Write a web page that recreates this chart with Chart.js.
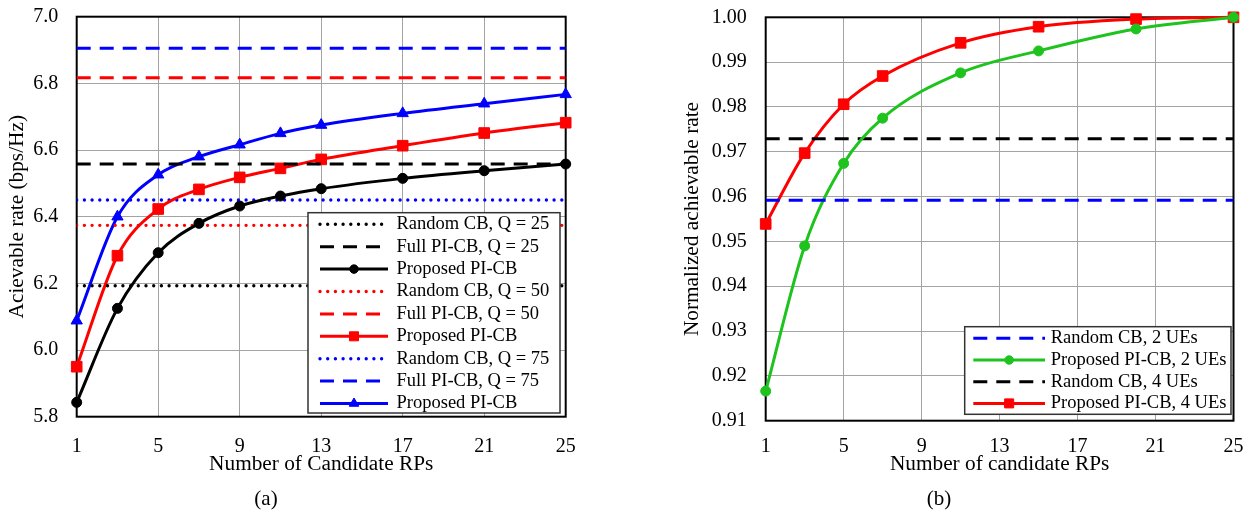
<!DOCTYPE html>
<html lang="en">
<head>
<meta charset="UTF-8" />
<title>Achievable rate vs number of candidate RPs</title>
<script src="https://cdn.jsdelivr.net/npm/chart.js"></script>
<style>
  body { margin: 0; background: #fff; font-family: "Liberation Serif", "Times New Roman", serif; }
  #wrap { position: relative; width: 1258px; height: 518px; }
  canvas { position: absolute; top: 0; }
  .cap { position: absolute; font-size: 21px; transform: translate(-50%, -50%); white-space: nowrap; }
</style>
</head>
<body>
<div id="wrap">
  <canvas id="rateChart" width="640" height="518" style="left:0"></canvas>
  <canvas id="normChart" width="618" height="518" style="left:640px"></canvas>
  <div class="cap" style="left:266px; top:498px">(a)</div>
  <div class="cap" style="left:939px; top:498px">(b)</div>
</div>
<script>
  // ---- data, panel (a) ----
  const rpA = [1, 3, 5, 7, 9, 11, 13, 17, 21, 25];
  const proposedQ25 = [5.843, 6.125, 6.292, 6.380, 6.432, 6.462, 6.484, 6.515, 6.538, 6.558];
  const proposedQ50 = [5.950, 6.283, 6.423, 6.482, 6.518, 6.545, 6.572, 6.613, 6.651, 6.682];
  const proposedQ75 = [6.088, 6.400, 6.526, 6.580, 6.616, 6.650, 6.675, 6.710, 6.739, 6.767];
  const randomQ = { 25: 6.193, 50: 6.374, 75: 6.450 };
  const fullQ = { 25: 6.558, 50: 6.817, 75: 6.905 };
  const yTicksA = [5.8, 6.0, 6.2, 6.4, 6.6, 6.8, 7.0];

  // ---- data, panel (b) ----
  const rpB = [1, 3, 5, 7, 11, 15, 20, 25];
  const proposed2UE = [0.9166, 0.9490, 0.9674, 0.9775, 0.9876, 0.9925, 0.9974, 1.0000];
  const proposed4UE = [0.9539, 0.9697, 0.9806, 0.9869, 0.9943, 0.9979, 0.9996, 1.0000];
  const random2UE = 0.9592;
  const random4UE = 0.9729;
  const yTicksB = [0.91, 0.92, 0.93, 0.94, 0.95, 0.96, 0.97, 0.98, 0.99, 1.00];

  const xTicks = [1, 5, 9, 13, 17, 21, 25];

  const SERIF = "'Liberation Serif', 'Times New Roman', serif";
  Chart.defaults.font.family = SERIF;
  Chart.defaults.color = '#000';

  const GRID = '#a3a3a3';

  function pts(xs, ys) {
    return xs.map((x, i) => ({ x: x, y: ys[i] }));
  }

  function flat(label, value, color, dotted) {
    return {
      label: label,
      data: pts([xTicks[0], xTicks[xTicks.length - 1]], [value, value]),
      borderColor: color,
      borderWidth: dotted ? 3.4 : 3,
      borderDash: dotted ? [0, 7.7] : [14, 9],
      borderCapStyle: dotted ? 'round' : 'butt',
      pointRadius: 0,
      pointHoverRadius: 0
    };
  }

  function curve(label, xs, ys, color, style, radius) {
    return {
      label: label,
      data: pts(xs, ys),
      borderColor: color,
      backgroundColor: color,
      pointBackgroundColor: color,
      pointBorderColor: color,
      borderWidth: 3,
      pointStyle: style,
      pointRadius: radius,
      pointBorderWidth: 1,
      cubicInterpolationMode: 'monotone',
      clip: false
    };
  }

  // legend box drawn on top of the plot, at a fixed spot
  const boxLegend = {
    id: 'boxLegend',
    afterDraw(chart, args, o) {
      const ctx = chart.ctx;
      ctx.save();
      ctx.fillStyle = '#fff';
      ctx.fillRect(o.left, o.top, o.width, o.height);
      ctx.lineWidth = 1.5;
      ctx.strokeStyle = '#333';
      ctx.strokeRect(o.left, o.top, o.width, o.height);
      ctx.font = '18.5px ' + SERIF;
      ctx.textBaseline = 'middle';
      chart.data.datasets.forEach((ds, i) => {
        const y = o.firstRow + i * o.rowHeight;
        ctx.save();
        ctx.strokeStyle = ds.borderColor;
        ctx.lineWidth = ds.borderWidth;
        ctx.lineCap = ds.borderCapStyle || 'butt';
        ctx.setLineDash(ds.borderDash || []);
        ctx.beginPath();
        ctx.moveTo(o.sampleFrom, y);
        ctx.lineTo(o.sampleTo, y);
        ctx.stroke();
        ctx.restore();
        if (ds.pointRadius > 0) {
          const mx = (o.sampleFrom + o.sampleTo) / 2;
          ctx.save();
          ctx.setLineDash([]);
          ctx.fillStyle = ds.pointBackgroundColor;
          ctx.strokeStyle = ds.pointBorderColor;
          ctx.lineWidth = 1;
          const r = ds.pointRadius * 0.85;
          if (Chart.helpers && Chart.helpers.drawPoint) {
            Chart.helpers.drawPoint(ctx, { pointStyle: ds.pointStyle, radius: r, borderWidth: 1, rotation: 0 }, mx, y);
          } else {
            ctx.beginPath();
            ctx.arc(mx, y, r, 0, Math.PI * 2);
            ctx.fill();
          }
          ctx.restore();
        }
        ctx.fillStyle = '#000';
        ctx.fillText(ds.label, o.textX, y);
      });
      ctx.restore();
    }
  };

  const frame = {
    id: 'frame',
    beforeDatasetsDraw(chart) {
      const { ctx, chartArea: a } = chart;
      ctx.save();
      ctx.strokeStyle = '#000';
      ctx.lineWidth = 2;
      ctx.strokeRect(a.left, a.top, a.right - a.left, a.bottom - a.top);
      ctx.restore();
    }
  };

  function xScale(title, tickPad, height) {
    return {
      type: 'linear',
      min: xTicks[0],
      max: xTicks[xTicks.length - 1],
      afterBuildTicks: s => { s.ticks = xTicks.map(v => ({ value: v })); },
      afterFit: s => { s.height = height; },
      grid: { color: GRID, lineWidth: 1, drawTicks: false },
      border: { display: false },
      ticks: { font: { size: 20 }, padding: tickPad, maxRotation: 0 },
      title: { display: true, text: title, font: { size: 21.3 }, padding: { top: 0, bottom: 0 } }
    };
  }

  function yScale(title, ticks, digits, width, tickPad, titlePad) {
    return {
      type: 'linear',
      min: ticks[0],
      max: ticks[ticks.length - 1],
      afterBuildTicks: s => { s.ticks = ticks.map(v => ({ value: v })); },
      // fixed width; drop the extra top/bottom room the tick padding would claim
      afterFit: s => { s.width = width; s.paddingTop = 0; s.paddingBottom = 0; },
      grid: { color: GRID, lineWidth: 1, drawTicks: false },
      border: { display: false },
      ticks: { font: { size: 20 }, padding: tickPad, callback: v => Number(v).toFixed(digits) },
      title: { display: true, text: title, font: { size: 21.3 }, padding: { top: titlePad, bottom: 0 } }
    };
  }

  new Chart(document.getElementById('rateChart'), {
    type: 'line',
    data: {
      datasets: [
        flat('Random CB, Q = 25', randomQ[25], '#000000', true),
        flat('Full PI-CB, Q = 25', fullQ[25], '#000000', false),
        curve('Proposed PI-CB', rpA, proposedQ25, '#000000', 'circle', 5),
        flat('Random CB, Q = 50', randomQ[50], '#ff0000', true),
        flat('Full PI-CB, Q = 50', fullQ[50], '#ff0000', false),
        curve('Proposed PI-CB', rpA, proposedQ50, '#ff0000', 'rect', 7.5),
        flat('Random CB, Q = 75', randomQ[75], '#0000ff', true),
        flat('Full PI-CB, Q = 75', fullQ[75], '#0000ff', false),
        curve('Proposed PI-CB', rpA, proposedQ75, '#0000ff', 'triangle', 6.5)
      ]
    },
    options: {
      responsive: false,
      animation: false,
      devicePixelRatio: 1,
      layout: { padding: { left: 0, top: 16.7, right: 74.3, bottom: 41.2 } },
      scales: {
        x: xScale('Number of Candidate RPs', 18.5, 60.1),
        y: yScale('Acievable rate (bps/Hz)', yTicksA, 1, 76.7, 18.4, 4.7)
      },
      plugins: {
        legend: { display: false },
        tooltip: { enabled: false },
        boxLegend: {
          left: 308, top: 212.7, width: 252, height: 200.3,
          firstRow: 224.3, rowHeight: 22.4,
          sampleFrom: 320, sampleTo: 388, textX: 396.5
        }
      }
    },
    plugins: [frame, boxLegend]
  });

  new Chart(document.getElementById('normChart'), {
    type: 'line',
    data: {
      datasets: [
        flat('Random CB, 2 UEs', random2UE, '#0000ff', false),
        curve('Proposed PI-CB, 2 UEs', rpB, proposed2UE, '#1ec31e', 'circle', 5),
        flat('Random CB, 4 UEs', random4UE, '#000000', false),
        curve('Proposed PI-CB, 4 UEs', rpB, proposed4UE, '#ff0000', 'rect', 7.5)
      ]
    },
    options: {
      responsive: false,
      animation: false,
      devicePixelRatio: 1,
      layout: { padding: { left: 20, top: 17.3, right: 18.7, bottom: 41.2 } },
      scales: {
        x: xScale('Number of candidate RPs', 14.5, 56.1),
        y: yScale('Normalized achievable rate', yTicksB, 2, 105.7, 19, 19.2)
      },
      plugins: {
        legend: { display: false },
        tooltip: { enabled: false },
        boxLegend: {
          left: 324.7, top: 326.7, width: 266.3, height: 87.6,
          firstRow: 338.3, rowHeight: 21.7,
          sampleFrom: 333.3, sampleTo: 405, textX: 410.7
        }
      }
    },
    plugins: [frame, boxLegend]
  });
</script>
</body>
</html>
